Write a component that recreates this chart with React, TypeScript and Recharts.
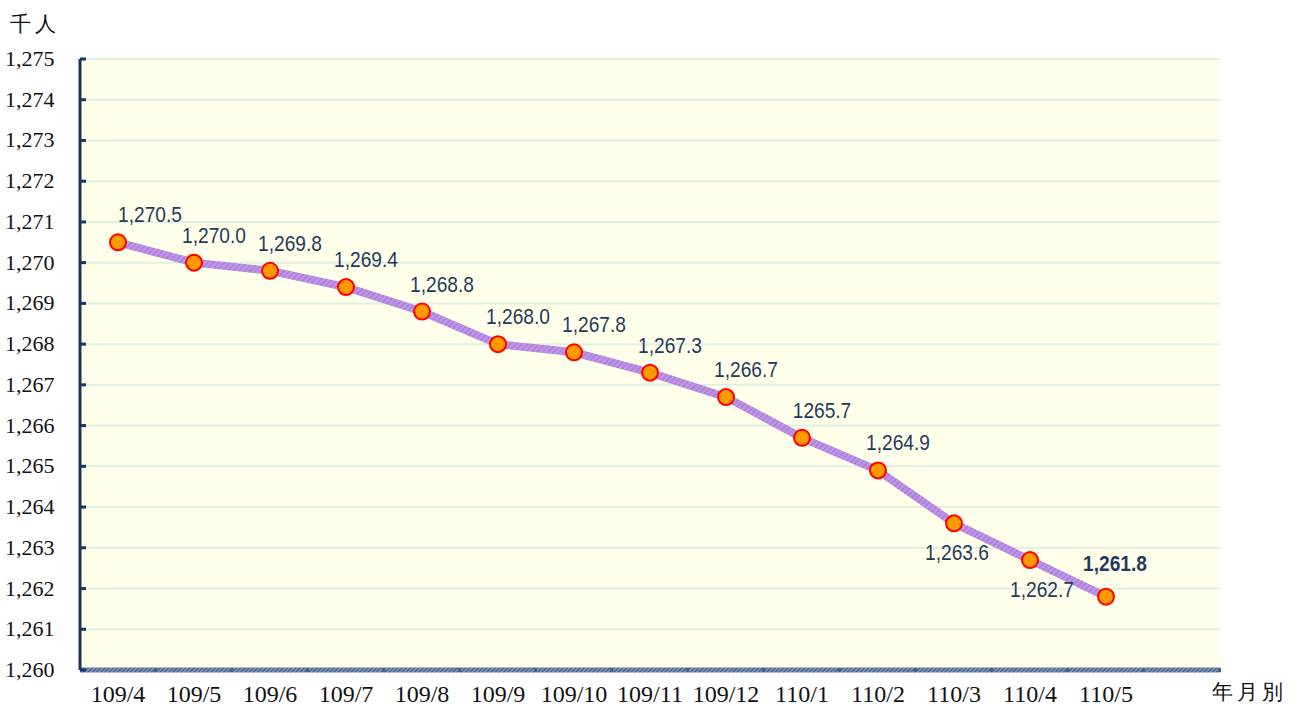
import React from 'react';
import { LineChart, Line, XAxis, YAxis, CartesianGrid, LabelList } from 'recharts';

// 月別 (民國年/月)，最後一格留空
const months = ['109/4', '109/5', '109/6', '109/7', '109/8', '109/9', '109/10', '109/11', '109/12', '110/1', '110/2', '110/3', '110/4', '110/5', ''];
// 千人
const values = [1270.5, 1270.0, 1269.8, 1269.4, 1268.8, 1268.0, 1267.8, 1267.3, 1266.7, 1265.7, 1264.9, 1263.6, 1262.7, 1261.8, null];
const valueLabels = ['1,270.5', '1,270.0', '1,269.8', '1,269.4', '1,268.8', '1,268.0', '1,267.8', '1,267.3', '1,266.7', '1265.7', '1,264.9', '1,263.6', '1,262.7', '1,261.8', ''];
const yTicks = [1260, 1261, 1262, 1263, 1264, 1265, 1266, 1267, 1268, 1269, 1270, 1271, 1272, 1273, 1274, 1275];

const data = months.map((m, i) => ({ month: m, value: values[i], label: valueLabels[i] }));

const NAVY = '#17375E';
const LABEL_BLUE = '#1F3A5F';
const SERIF = '"Liberation Serif", "DejaVu Serif", serif';
const SANS = '"Liberation Sans", Arial, sans-serif';

const YTick = (props: any) => {
  const { y, payload } = props;
  return (
    <g>
      <line x1={80} x2={86} y1={y} y2={y} stroke={NAVY} strokeWidth={3} />
      <text x={5} y={y} dy={7} fontFamily={SERIF} fontSize={22} fill="#111" textAnchor="start">
        {payload.value.toLocaleString('en-US')}
      </text>
    </g>
  );
};

const XTick = (props: any) => {
  const { x, y, payload } = props;
  return (
    <g>
      <rect x={x + 36} y={y - 10} width={3} height={4} fill="#4A5F8F" />
      <text x={x} y={702} fontFamily={SERIF} fontSize={24} fill="#111" textAnchor="middle">
        {payload.value}
      </text>
    </g>
  );
};

// 窄體字：以水平壓縮模擬
const ValueLabel = (props: any) => {
  const { x, y, index, value } = props;
  if (!value) return null;
  let dx = 20;
  let dy = -20;
  if (index === 0) dx = 32;
  if (index === 11) { dx = 3; dy = 37; }
  if (index === 12) { dx = 12; dy = 37; }
  if (index === 13) { dx = 9; dy = -26; }
  const last = index === 13;
  return (
    <text
      x={0}
      y={0}
      transform={`translate(${x + dx},${y + dy}) scale(0.87,1)`}
      textAnchor="middle"
      fontFamily={SANS}
      fontSize={22}
      fontWeight={last ? 'bold' : 'normal'}
      fill={LABEL_BLUE}
    >
      {value}
    </text>
  );
};

const Dot = (props: any) => {
  const { cx, cy, value } = props;
  if (value == null) return null;
  return <circle cx={cx} cy={cy} r={8} fill="#FF9900" stroke="#FF0000" strokeWidth={2} />;
};

export default function App() {
  return (
    <div style={{ position: 'absolute', left: 0, top: 0, width: 1299, height: 706, background: '#fff' }}>
      <LineChart
        width={1299}
        height={706}
        data={data}
        margin={{ top: 59, right: 79, left: 0, bottom: 0 }}
      >
        <defs>
          <pattern id="hatch" patternUnits="userSpaceOnUse" width={4} height={4} patternTransform="rotate(45)">
            <rect width={4} height={4} fill="#BE94E4" />
            <line x1={0} y1={0} x2={0} y2={4} stroke="#A674D8" strokeWidth={2} />
          </pattern>
          <pattern id="axisHatch" patternUnits="userSpaceOnUse" width={3} height={3} patternTransform="rotate(45)">
            <rect width={3} height={3} fill="#7E8FB8" />
            <line x1={0} y1={0} x2={0} y2={3} stroke="#2B4478" strokeWidth={1.5} />
          </pattern>
        </defs>
        <CartesianGrid vertical={false} stroke="#DFF0E2" strokeWidth={2} fill="#FFFFEA" fillOpacity={1} />
        <XAxis
          dataKey="month"
          height={36}
          padding={{ left: 38, right: 38 }}
          axisLine={{ stroke: 'url(#axisHatch)', strokeWidth: 5 }}
          tickLine={false}
          tick={<XTick />}
          interval={0}
        />
        <YAxis
          width={80}
          domain={[1260, 1275]}
          ticks={yTicks}
          interval={0}
          axisLine={{ stroke: NAVY, strokeWidth: 3 }}
          tickLine={false}
          tick={<YTick />}
        />
        <Line
          type="linear"
          dataKey="value"
          stroke="url(#hatch)"
          strokeWidth={8}
          dot={<Dot />}
          activeDot={false}
          isAnimationActive={false}
          connectNulls={false}
        >
          <LabelList dataKey="label" content={<ValueLabel />} />
        </Line>
      </LineChart>
      <div style={{ position: 'absolute', left: 10, top: 10, fontFamily: SERIF, fontSize: 21, letterSpacing: 4, color: '#111' }}>千人</div>
      <div style={{ position: 'absolute', left: 1212, top: 678, fontFamily: SERIF, fontSize: 21, letterSpacing: 4, color: '#111' }}>年月別</div>
    </div>
  );
}
